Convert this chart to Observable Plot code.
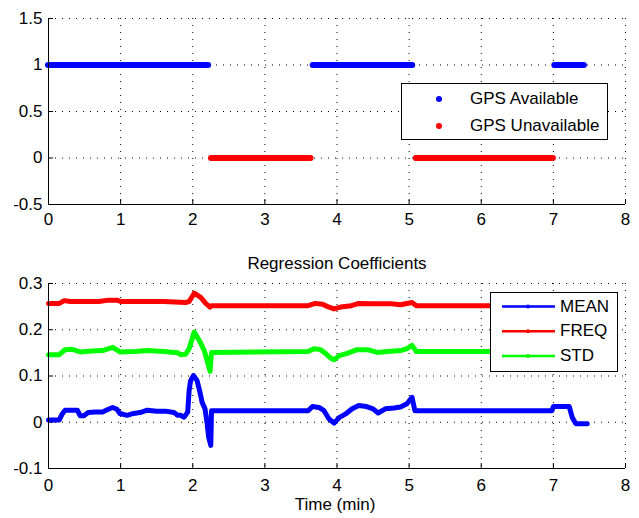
<!DOCTYPE html>
<html><head><meta charset="utf-8">
<script src="https://cdn.jsdelivr.net/npm/d3@7"></script>
<script src="https://cdn.jsdelivr.net/npm/@observablehq/plot@0.6"></script>
<style>
body{margin:0;background:#fff;font-family:"Liberation Sans",Arial,sans-serif;}
#fig{position:relative;width:639px;height:518px;overflow:hidden;background:#fff;}
#fig > svg{position:absolute;left:0;overflow:visible;}
.legend{position:absolute;background:#fff;border:1px solid #000;box-sizing:border-box;font-size:17px;color:#000;}
.legend .lab{position:absolute;white-space:nowrap;line-height:20px;}
.legend svg{position:absolute;left:0;top:0;}
</style></head><body><div id="fig"></div>
<script>
// ---------- data ----------
const xTicks = [0,1,2,3,4,5,6,7,8];
const topYTicks = [-0.5,0,0.5,1,1.5];
const botYTicks = [-0.1,0,0.1,0.2,0.3];

// GPS state segments (minutes)
const gpsAvailStart   = [0, 3.67, 7.02];
const gpsAvailEnd     = [2.22, 5.05, 7.43];
const gpsUnavailStart = [2.26, 5.1];
const gpsUnavailEnd   = [3.64, 7.0];
const gpsLabels = ["GPS Available", "GPS Unavailable"];

// Regression coefficients
const meanT = [0,0.15,0.19,0.23,0.3,0.4,0.44,0.49,0.55,0.65,0.75,0.83,0.89,0.95,0.99,1.09,1.18,1.27,1.37,1.5,1.62,1.74,1.79,1.83,1.88,1.93,1.95,1.97,2.01,2.06,2.1,2.13,2.17,2.2,2.22,2.25,2.26,3.6,3.66,3.75,3.82,3.89,3.96,4.03,4.12,4.21,4.3,4.41,4.5,4.57,4.67,4.79,4.88,4.97,5.04,5.08,6.98,7.0,7.22,7.26,7.31,7.47];
const meanV = [0.005,0.005,0.018,0.026,0.026,0.026,0.014,0.014,0.021,0.022,0.022,0.028,0.032,0.028,0.019,0.015,0.019,0.021,0.026,0.024,0.024,0.021,0.015,0.015,0.011,0.022,0.069,0.09,0.101,0.09,0.065,0.043,0.029,-0.003,-0.032,-0.05,0.025,0.025,0.034,0.032,0.025,0.007,-0.002,0.01,0.018,0.029,0.036,0.034,0.029,0.02,0.029,0.031,0.033,0.04,0.054,0.025,0.025,0.034,0.034,0.011,-0.003,-0.003];

const freqT = [0,0.15,0.22,0.3,0.5,0.7,0.83,0.95,1.0,1.3,1.6,1.9,1.95,2.02,2.11,2.18,2.24,2.26,3.6,3.7,3.8,3.87,3.96,4.05,4.2,4.3,4.5,4.75,4.88,5.04,5.1,7.47];
const freqV = [0.257,0.257,0.263,0.261,0.261,0.261,0.264,0.264,0.261,0.261,0.261,0.259,0.261,0.279,0.27,0.257,0.249,0.252,0.252,0.257,0.255,0.25,0.245,0.249,0.252,0.257,0.256,0.256,0.254,0.259,0.252,0.252];

const stdT = [0,0.15,0.23,0.32,0.44,0.6,0.75,0.89,0.99,1.2,1.37,1.6,1.74,1.78,1.83,1.9,1.95,2.02,2.09,2.16,2.2,2.24,2.26,3.6,3.68,3.77,3.84,3.91,3.96,4.03,4.14,4.28,4.42,4.56,4.7,4.88,4.97,5.04,5.1,7.47];
const stdV = [0.146,0.146,0.157,0.158,0.152,0.154,0.155,0.162,0.152,0.153,0.155,0.153,0.151,0.151,0.146,0.147,0.159,0.195,0.177,0.155,0.133,0.11,0.151,0.153,0.159,0.157,0.149,0.139,0.135,0.144,0.149,0.157,0.157,0.151,0.153,0.155,0.159,0.166,0.153,0.153];

const seriesNames = ["MEAN","FREQ","STD"];
const seriesColors = ["#0000ff","#ff0000","#00ff00"];

// ---------- build ----------
const rows = (T, V) => T.map((t, i) => ({t, v: V[i]}));
const segs = (S, E, y) => S.map((s, i) => ({x1: s, x2: E[i], y}));

const FONT = {fontFamily: "'Liberation Sans', Arial, sans-serif", fontSize: "17px", background: "transparent", overflow: "visible", color: "#000"};
const fmt = d => String(d);

function frameMarks(yTicks, xPad) {
  return [
    Plot.gridX(xTicks.slice(1), {stroke: "#000", strokeOpacity: 1, strokeDasharray: "1,6"}),
    Plot.gridY(yTicks.slice(1), {stroke: "#000", strokeOpacity: 1, strokeDasharray: "1,6"}),
    Plot.axisX(xTicks, {tickSize: -5, tickPadding: xPad, tickFormat: fmt, fontSize: 17, label: null}),
    Plot.axisY(yTicks, {tickSize: -5, tickPadding: 11, tickFormat: fmt, fontSize: 17, label: null})
  ];
}

const topPlot = Plot.plot({
  width: 639, height: 235,
  marginLeft: 48, marginRight: 14, marginTop: 18, marginBottom: 31,
  style: FONT,
  x: {domain: [0, 8]},
  y: {domain: [-0.5, 1.5]},
  marks: [
    ...frameMarks(topYTicks, 13),
    Plot.ruleY(segs(gpsAvailStart, gpsAvailEnd, 1), {y: "y", x1: "x1", x2: "x2", stroke: "#0000ff", strokeWidth: 6, strokeLinecap: "round"}),
    Plot.ruleY(segs(gpsUnavailStart, gpsUnavailEnd, 0), {y: "y", x1: "x1", x2: "x2", stroke: "#ff0000", strokeWidth: 6, strokeLinecap: "round"}),
    Plot.ruleX([0], {stroke: "#000"}),
    Plot.ruleY([-0.5], {stroke: "#000"})
  ]
});
topPlot.style.top = "0px";

const botPlot = Plot.plot({
  width: 639, height: 283,
  marginLeft: 48, marginRight: 14, marginTop: 48, marginBottom: 50,
  style: FONT,
  x: {domain: [0, 8]},
  y: {domain: [-0.1, 0.3]},
  marks: [
    ...frameMarks(botYTicks, 15),
    Plot.line(rows(meanT, meanV), {x: "t", y: "v", stroke: seriesColors[0], strokeWidth: 5, strokeLinejoin: "round", strokeLinecap: "round"}),
    Plot.line(rows(freqT, freqV), {x: "t", y: "v", stroke: seriesColors[1], strokeWidth: 5, strokeLinejoin: "round", strokeLinecap: "round"}),
    Plot.line(rows(stdT, stdV), {x: "t", y: "v", stroke: seriesColors[2], strokeWidth: 5, strokeLinejoin: "round", strokeLinecap: "round"}),
    Plot.ruleX([0], {stroke: "#000"}),
    Plot.ruleY([-0.1], {stroke: "#000"}),
    Plot.text(["Regression Coefficients"], {frameAnchor: "top", dy: -20, lineAnchor: "middle", fontSize: 17, fill: "#000"}),
    Plot.text(["Time (min)"], {frameAnchor: "bottom", dy: 36, dx: -2, lineAnchor: "middle", fontSize: 17, fill: "#000"})
  ]
});
botPlot.style.top = "235px";

const fig = document.getElementById("fig");
fig.appendChild(topPlot);
fig.appendChild(botPlot);

// legend 1 (markers only)
const lg1 = document.createElement("div");
lg1.className = "legend";
Object.assign(lg1.style, {left: "401px", top: "83px", width: "207px", height: "57px"});
let s1 = '<svg width="207" height="57">';
[0,1].forEach(i => { s1 += `<circle cx="37" cy="${15 + i*27}" r="3" fill="${i ? "#ff0000" : "#0000ff"}"/>`; });
s1 += '</svg>';
lg1.innerHTML = s1 + gpsLabels.map((l, i) => `<div class="lab" style="left:68px;top:${5 + i*27}px">${l}</div>`).join("");
fig.appendChild(lg1);

// legend 2 (lines)
const lg2 = document.createElement("div");
lg2.className = "legend";
Object.assign(lg2.style, {left: "490px", top: "292px", width: "128px", height: "80px"});
let s2 = '<svg width="128" height="80">';
seriesNames.forEach((n, i) => {
  const y = 13.5 + i*24.8;
  s2 += `<line x1="11" x2="64" y1="${y}" y2="${y}" stroke="${seriesColors[i]}" stroke-width="2.5"/><circle cx="37" cy="${y}" r="2" fill="${seriesColors[i]}"/>`;
});
s2 += '</svg>';
lg2.innerHTML = s2 + seriesNames.map((n, i) => `<div class="lab" style="left:69px;top:${3.5 + i*24.8}px">${n}</div>`).join("");
fig.appendChild(lg2);
</script></body></html>
